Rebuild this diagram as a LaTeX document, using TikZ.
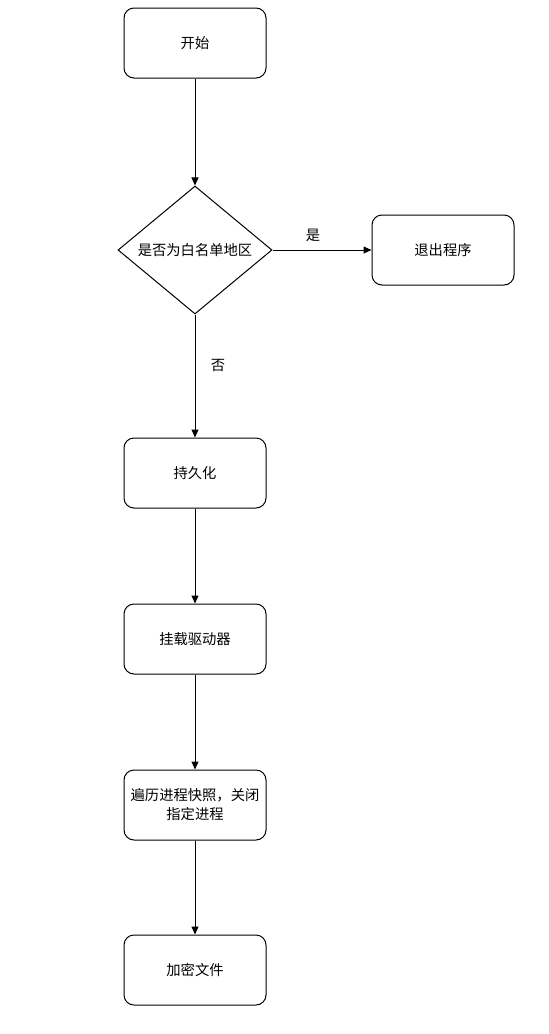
\documentclass[tikz,border=0pt]{standalone}
\usepackage{fontspec}
\setmainfont{Noto Sans CJK SC}
\usetikzlibrary{shapes.geometric,arrows.meta}
\begin{document}
\begin{tikzpicture}[x=1pt,y=-1pt,
  procbox/.style={draw=black,line width=1pt,rounded corners=10pt,minimum width=142pt,minimum height=70pt,inner sep=2pt,align=center,font=\fontsize{14.3}{19}\selectfont},
  decision/.style={draw=black,line width=1pt,diamond,minimum width=154pt,minimum height=128pt,inner sep=0pt,aspect=1.2,font=\fontsize{14.3}{19}\selectfont},
  flow/.style={draw=black,line width=1pt,-{Triangle[length=8pt,width=7pt]}},
  lbl/.style={font=\fontsize{14.3}{19}\selectfont}]
\useasboundingbox (0,0) rectangle (549,1034);
\node[procbox] (start) at (195,43) {开始};
\node[decision] (dec) at (195,250) {是否为白名单地区};
\node[procbox] (exit) at (443,250) {退出程序};
\node[procbox] (persist) at (195,473) {持久化};
\node[procbox] (mount) at (195,639) {挂载驱动器};
\node[procbox] (kill) at (195,805) {遍历进程快照，关闭\\指定进程};
\node[procbox] (enc) at (195,970) {加密文件};
\draw[flow] (start) -- (dec);
\draw[flow] (dec) -- (exit);
\draw[flow] (dec) -- (persist);
\draw[flow] (persist) -- (mount);
\draw[flow] (mount) -- (kill);
\draw[flow] (kill) -- (enc);
\node[lbl] (yes) at (313,235) {是};
\node[lbl] (no) at (218,365) {否};
\end{tikzpicture}
\end{document}
